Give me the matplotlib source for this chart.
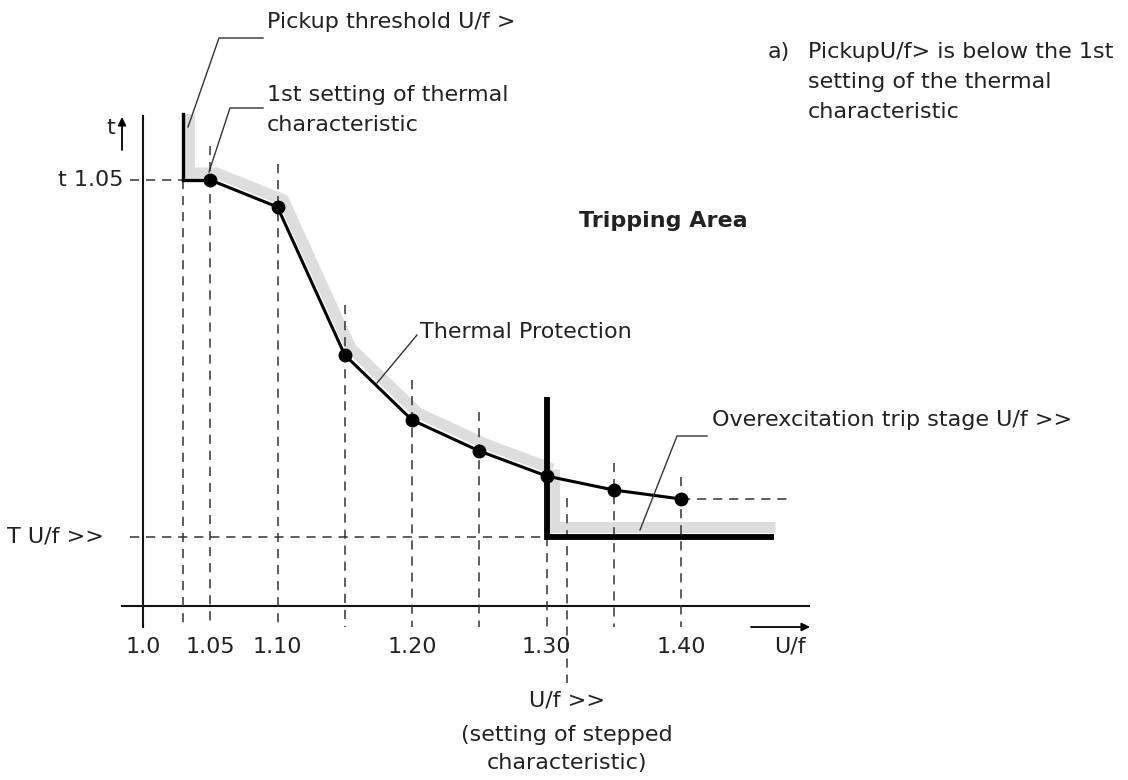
import matplotlib
matplotlib.use("Agg")
import matplotlib.pyplot as plt
from matplotlib.transforms import offset_copy

# ---------------- data ----------------
# thermal characteristic settings (U/f, time in arbitrary units)
uf_points = [1.05, 1.10, 1.15, 1.20, 1.25, 1.30, 1.35, 1.40]
t_points = [4.26, 3.99, 2.51, 1.86, 1.55, 1.30, 1.16, 1.07]
# upper ends of the vertical guide lines at each setting
guide_tops = [4.60, 4.42, 3.01, 2.26, 1.94, None, 1.43, 1.29]

uf_pickup = 1.03          # pickup threshold U/f >
uf_stage = 1.315          # U/f >> setting
t_105 = 4.26              # t 1.05
t_stage = 0.69            # T U/f >>
t_top = 4.92              # top of characteristic
t_stage_top = 2.09        # top of stepped vertical
uf_end = 1.469            # end of stepped characteristic

tick_vals = [1.0, 1.05, 1.10, 1.20, 1.30, 1.40]
tick_labels = ["1.0", "1.05", "1.10", "1.20", "1.30", "1.40"]

# ---------------- helpers (pixel layout -> data) ----------------
def U(px):
    return 1 + (px - 143) / 1345.0

def T(py):
    return (606 - py) / 100.0

plt.rcParams['font.family'] = ['DejaVu Sans']
FS = 16
TC = '#222222'

fig = plt.figure(figsize=(11.28, 7.8), dpi=100)
ax = fig.add_axes([0, 0, 1, 1])
ax.set_xlim(U(0), U(1128))
ax.set_ylim(T(780), T(0))
ax.axis('off')

dash = dict(color='#333333', lw=1.1, ls=(0, (6, 4.5)))
lead = dict(color='#333333', lw=1.0)

# gray band (overall tripping characteristic)
gx = [uf_pickup, uf_pickup] + uf_points[:6]
gy = [t_top - 0.07, t_105] + t_points[:6]
off1 = offset_copy(ax.transData, fig=fig, x=6, y=7, units='dots')
ax.plot(gx, gy, color='#dddddd', lw=8, solid_joinstyle='miter',
        solid_capstyle='butt', transform=off1, zorder=1)
off2 = offset_copy(ax.transData, fig=fig, x=7, y=10, units='dots')
ax.plot([uf_points[5], uf_points[5], uf_end - 0.004], [t_points[5] - 0.03, t_stage, t_stage],
        color='#dddddd', lw=8, solid_joinstyle='miter',
        solid_capstyle='butt', transform=off2, zorder=1)

# axes
ax.plot([U(122), U(809)], [0, 0], color='#111111', lw=1.5, zorder=2)
ax.plot([1.0, 1.0], [T(627), T(116)], color='#111111', lw=1.5, zorder=2)

# vertical guide lines
ax.plot([uf_pickup, uf_pickup], [t_105, T(627)], **dash, zorder=2)
for u, top in zip(uf_points, guide_tops):
    start = top if top is not None else t_stage
    ax.plot([u, u], [start, T(627)], **dash, zorder=2)
ax.plot([uf_stage, uf_stage], [T(498), T(683)], **dash, zorder=2)

# horizontal guide lines
ax.plot([U(130), uf_pickup], [t_105, t_105], **dash, zorder=2)
ax.plot([U(130), uf_points[5]], [t_stage, t_stage], **dash, zorder=2)
ax.plot([uf_points[-1], U(792)], [t_points[-1], t_points[-1]], **dash, zorder=2)

# pickup threshold line
ax.plot([uf_pickup, uf_pickup, uf_points[0]], [t_top, t_105, t_105],
        color='black', lw=2.4, solid_joinstyle='miter', zorder=3)
# thermal characteristic
ax.plot(uf_points, t_points, color='black', lw=2.2, zorder=3)
ax.plot(uf_points, t_points, 'o', color='black', ms=9, zorder=4)
# stepped characteristic
ax.plot([uf_points[5], uf_points[5], uf_end], [t_stage_top, t_stage, t_stage],
        color='black', lw=4.2, solid_joinstyle='miter', solid_capstyle='butt', zorder=3)

# tick labels
for v, lab in zip(tick_vals, tick_labels):
    ax.text(v, T(647), lab, ha='center', va='center', fontsize=FS, color=TC)
ax.text(U(123), t_105, "t 1.05", ha='right', va='center', fontsize=FS, color=TC)
ax.text(U(104), t_stage, "T U/f >>", ha='right', va='center', fontsize=FS, color=TC)

# axis titles with arrows
ax.text(U(790), T(647), "U/f", ha='center', va='center', fontsize=FS, color=TC)
ax.annotate("", xy=(U(810), T(627)), xytext=(U(751), T(627)),
            arrowprops=dict(arrowstyle='-|>', color='black', lw=1.3,
                            mutation_scale=12, shrinkA=0, shrinkB=0))
ax.text(U(111), T(128), "t", ha='center', va='center', fontsize=FS, color=TC)
ax.annotate("", xy=(U(122), T(117)), xytext=(U(122), T(150)),
            arrowprops=dict(arrowstyle='-|>', color='black', lw=1.3,
                            mutation_scale=12, shrinkA=0, shrinkB=0))

# annotations
ax.text(U(267), T(22), "Pickup threshold U/f >", ha='left', va='center', fontsize=FS, color=TC)
ax.plot([U(263), U(219), U(188)], [T(38), T(38), T(127)], **lead, zorder=5)

ax.text(U(267), T(95), "1st setting of thermal", ha='left', va='center', fontsize=FS, color=TC)
ax.text(U(267), T(125), "characteristic", ha='left', va='center', fontsize=FS, color=TC)
ax.plot([U(263), U(230), U(209)], [T(108), T(108), T(172)], **lead, zorder=5)

ax.text(U(768), T(52), "a)", ha='left', va='center', fontsize=FS, color=TC)
for i, line in enumerate(["PickupU/f> is below the 1st", "setting of the thermal", "characteristic"]):
    ax.text(U(808), T(52 + 30 * i), line, ha='left', va='center', fontsize=FS, color=TC)

ax.text(U(663), T(221), "Tripping Area", ha='center', va='center', fontsize=FS,
        fontweight='bold', color=TC)

ax.text(U(420), T(332), "Thermal Protection", ha='left', va='center', fontsize=FS, color=TC)
ax.plot([U(417), U(377)], [T(335), T(383)], **lead, zorder=5)

ax.text(U(712), T(420), "Overexcitation trip stage U/f >>", ha='left', va='center',
        fontsize=FS, color=TC)
ax.plot([U(707), U(677), U(640)], [T(436), T(436), T(530)], **lead, zorder=5)

ax.text(uf_stage, T(700), "U/f >>", ha='center', va='center', fontsize=FS, color=TC)
ax.text(uf_stage, T(735), "(setting of stepped", ha='center', va='center', fontsize=FS, color=TC)
ax.text(uf_stage, T(763), "characteristic)", ha='center', va='center', fontsize=FS, color=TC)

fig.savefig("out.png", dpi=100, facecolor='white')
